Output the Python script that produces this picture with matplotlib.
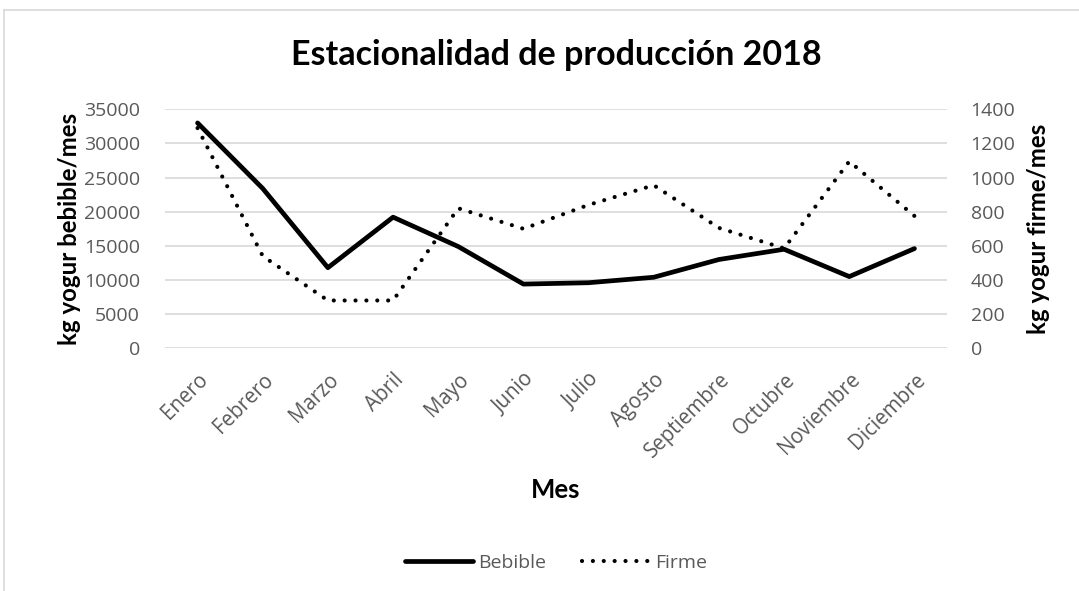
import matplotlib.pyplot as plt
from matplotlib.lines import Line2D

# data
meses = ['Enero', 'Febrero', 'Marzo', 'Abril', 'Mayo', 'Junio', 'Julio',
         'Agosto', 'Septiembre', 'Octubre', 'Noviembre', 'Diciembre']
bebible = [33000, 23400, 11800, 19200, 14900, 9400, 9600, 10400, 13000, 14500, 10500, 14600]
firme = [1290, 540, 280, 280, 820, 700, 840, 955, 705, 585, 1095, 775]

plt.rcParams['font.family'] = ['Lato', 'DejaVu Sans']
gris = '#595959'
tickfont = 'Open Sans'

fig = plt.figure(figsize=(10.79, 5.91), dpi=100)
ax = fig.add_axes([0.1529, 0.4107, 0.7248, 0.4044])
ax2 = ax.twinx()

x = range(len(meses))
l1, = ax.plot(x, bebible, color='black', lw=3.4, solid_capstyle='round', solid_joinstyle='round', zorder=3)
l2, = ax2.plot(x, firme, color='black', lw=3.0, linestyle=(0, (0.01, 2.6)),
               dash_capstyle='round', zorder=3)

ax.set_xlim(-0.5, 11.5)
ax.set_ylim(0, 35000)
ax.set_yticks(range(0, 35001, 5000))
ax2.set_ylim(0, 1400)
ax2.set_yticks(range(0, 1401, 200))
ax.grid(axis='y', color='#d9d9d9', lw=1.2)
ax.set_axisbelow(True)

for a in (ax, ax2):
    for s in a.spines.values():
        s.set_visible(False)
    a.tick_params(length=0, labelsize=14, labelcolor=gris)
    for t in a.get_yticklabels():
        t.set_family(tickfont)
ax.tick_params(axis='y', pad=18)
ax2.tick_params(axis='y', pad=17)

ax.set_xticks(list(x))
ax.set_xticklabels(meses, rotation=45, ha='right', rotation_mode='anchor', family=tickfont, fontsize=14.8)
ax.tick_params(axis='x', pad=15)

ax.set_ylabel('kg yogur bebible/mes', fontsize=17.3, fontweight='bold', labelpad=2)
ax2.set_ylabel('kg yogur firme/mes', fontsize=17.3, fontweight='bold', labelpad=8)
fig.text(556 / 1079, 1 - 490 / 591, 'Mes', ha='center', va='center', fontsize=18.5, fontweight='bold')
fig.text(556 / 1079, 1 - 55 / 591, 'Estacionalidad de producción 2018', ha='center', va='center',
         fontsize=24.5, fontweight='bold')

fig.legend([l1, l2], ['Bebible', 'Firme'], loc='center', bbox_to_anchor=(556 / 1079, 1 - 563 / 591),
           ncol=2, frameon=False, prop={'family': tickfont, 'size': 14}, labelcolor=gris,
           handlelength=3.5, columnspacing=1.8, handletextpad=0.3)

# chart border (partly cropped in the original)
fig.add_artist(Line2D([4 / 1079, 4 / 1079], [0, 1 - 10 / 591], transform=fig.transFigure, color='#d9d9d9', lw=1.2))
fig.add_artist(Line2D([4 / 1079, 1], [1 - 10 / 591, 1 - 10 / 591], transform=fig.transFigure, color='#d9d9d9', lw=1.2))

fig.savefig('out.png', dpi=100)
